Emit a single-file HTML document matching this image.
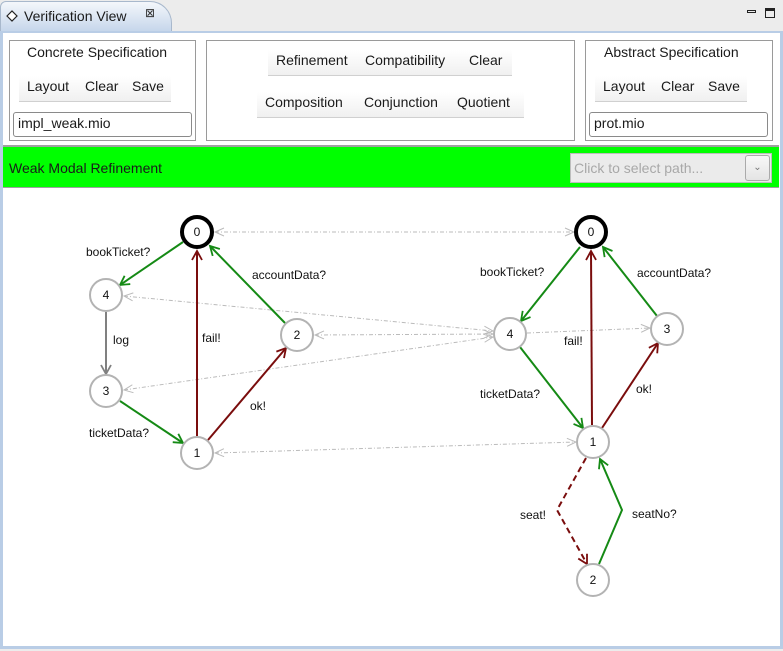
<!DOCTYPE html>
<html><head><meta charset="utf-8"><style>
*{margin:0;padding:0;box-sizing:border-box}
body{width:783px;height:651px;background:#ececec;font-family:"Liberation Sans","DejaVu Sans",sans-serif;position:relative;overflow:hidden;color:#1a1a1a}
.abs{position:absolute}
.tab{left:0;top:1px;width:172px;height:32px;background:linear-gradient(#f4f7fb,#c3d4ea);border:1px solid #a8b8cc;border-bottom:none;border-radius:6px 22px 0 0}
.frame{left:0;top:31px;width:783px;height:618px;border:3px solid #b9cde6;border-top:2px solid #b9cde6;background:#fff}
.box{border:1px solid #9a9a9a;background:#fff}
.t{font-size:14px;white-space:nowrap}
.btn{background:linear-gradient(#fff,#f0f0f0);border-bottom:1px solid #d0d0d0}
.inp{border:1px solid #8a8a8a;border-radius:3px;background:#fff;font-size:14px;padding:2px 4px}
</style></head><body>
<div class="abs tab"></div>
<svg class="abs" style="left:5px;top:9px" width="14" height="14"><path d="M2 7 L7 2 L12 7 L7 12 Z" fill="#fff" stroke="#222" stroke-width="1.2"/></svg>
<div class="abs t" style="left:24px;top:8px;font-size:14px">Verification View</div>
<div class="abs" style="left:145px;top:6px;font-size:12px;color:#333">⊠</div>
<div class="abs" style="left:747px;top:10px;width:9px;height:3px;border:1px solid #222"></div>
<div class="abs" style="left:765px;top:8px;width:10px;height:10px;border:1px solid #222;border-top-width:3px"></div>
<div class="abs frame"></div>

<div class="abs box" style="left:9px;top:40px;width:187px;height:101px"></div>
<div class="abs t" style="left:27px;top:44px">Concrete Specification</div>
<div class="abs btn" style="left:19px;top:76px;width:152px;height:26px"></div>
<div class="abs t" style="left:27px;top:78px">Layout</div>
<div class="abs t" style="left:85px;top:78px">Clear</div>
<div class="abs t" style="left:132px;top:78px">Save</div>
<div class="abs inp" style="left:13px;top:112px;width:179px;height:25px">impl_weak.mio</div>

<div class="abs box" style="left:206px;top:40px;width:369px;height:101px"></div>
<div class="abs btn" style="left:268px;top:50px;width:244px;height:26px"></div>
<div class="abs t" style="left:276px;top:52px">Refinement</div>
<div class="abs t" style="left:365px;top:52px">Compatibility</div>
<div class="abs t" style="left:469px;top:52px">Clear</div>
<div class="abs btn" style="left:257px;top:92px;width:267px;height:26px"></div>
<div class="abs t" style="left:265px;top:94px">Composition</div>
<div class="abs t" style="left:364px;top:94px">Conjunction</div>
<div class="abs t" style="left:457px;top:94px">Quotient</div>

<div class="abs box" style="left:585px;top:40px;width:188px;height:101px"></div>
<div class="abs t" style="left:604px;top:44px">Abstract Specification</div>
<div class="abs btn" style="left:595px;top:76px;width:152px;height:26px"></div>
<div class="abs t" style="left:603px;top:78px">Layout</div>
<div class="abs t" style="left:661px;top:78px">Clear</div>
<div class="abs t" style="left:708px;top:78px">Save</div>
<div class="abs inp" style="left:589px;top:112px;width:179px;height:25px">prot.mio</div>

<div class="abs" style="left:3px;top:145px;width:776px;height:2px;background:#a0a0a0"></div>
<div class="abs" style="left:3px;top:147px;width:776px;height:41px;background:#00ff00;border-bottom:1px solid #a0a0a0"></div>
<div class="abs t" style="left:9px;top:160px">Weak Modal Refinement</div>
<div class="abs" style="left:570px;top:153px;width:202px;height:30px;background:#ebebeb;border:1px solid #bdbdbd"></div>
<div class="abs t" style="left:574px;top:160px;color:#a8a8a8">Click to select path...</div>
<div class="abs" style="left:745px;top:155px;width:25px;height:26px;background:linear-gradient(#f8f8f8,#e4e4e4);border:1px solid #aaa;border-radius:3px;font-size:10px;color:#777;text-align:center;line-height:24px">⌄</div>

<svg class="abs" style="left:0;top:0" width="783" height="651">
<defs>
<marker id="ag" markerWidth="12" markerHeight="12" refX="10" refY="6" orient="auto" markerUnits="userSpaceOnUse"><path d="M1 1 L10 6 L1 11" fill="none" stroke="#158a15" stroke-width="1.8"/></marker>
<marker id="ar" markerWidth="12" markerHeight="12" refX="10" refY="6" orient="auto" markerUnits="userSpaceOnUse"><path d="M1 1 L10 6 L1 11" fill="none" stroke="#7a0d0d" stroke-width="1.8"/></marker>
<marker id="ay" markerWidth="12" markerHeight="12" refX="10" refY="6" orient="auto" markerUnits="userSpaceOnUse"><path d="M1 1 L10 6 L1 11" fill="none" stroke="#808080" stroke-width="1.8"/></marker>
<marker id="al" markerWidth="12" markerHeight="12" refX="10" refY="6" orient="auto" markerUnits="userSpaceOnUse"><path d="M1 2 L10 6 L1 10" fill="none" stroke="#bbb" stroke-width="1"/></marker>
<marker id="als" markerWidth="12" markerHeight="12" refX="2" refY="6" orient="auto" markerUnits="userSpaceOnUse"><path d="M11 2 L2 6 L11 10" fill="none" stroke="#bbb" stroke-width="1"/></marker>
</defs>
<g stroke="#bbb" stroke-width="1" stroke-dasharray="4,2,1,2" fill="none" marker-start="url(#als)" marker-end="url(#al)">
<line x1="215" y1="232" x2="574" y2="232"/>
<line x1="124" y1="296" x2="493" y2="331"/>
<line x1="315" y1="335" x2="493" y2="334"/>
<line x1="124" y1="390" x2="493" y2="337"/>
<line x1="215" y1="453" x2="576" y2="442"/>
</g>
<line x1="527" y1="333" x2="650" y2="328" stroke="#bbb" stroke-dasharray="4,2,1,2" marker-end="url(#al)"/>
<g fill="none" stroke-width="2">
<line x1="183" y1="242" x2="120" y2="285" stroke="#158a15" marker-end="url(#ag)"/>
<line x1="106" y1="312" x2="106" y2="374" stroke="#808080" marker-end="url(#ay)"/>
<line x1="120" y1="401" x2="183" y2="443" stroke="#158a15" marker-end="url(#ag)"/>
<line x1="197" y1="436" x2="197" y2="251" stroke="#7a0d0d" marker-end="url(#ar)"/>
<line x1="208" y1="440" x2="286" y2="348" stroke="#7a0d0d" marker-end="url(#ar)"/>
<line x1="285" y1="323" x2="210" y2="246" stroke="#158a15" marker-end="url(#ag)"/>
<line x1="580" y1="247" x2="521" y2="321" stroke="#158a15" marker-end="url(#ag)"/>
<line x1="520" y1="347" x2="583" y2="428" stroke="#158a15" marker-end="url(#ag)"/>
<line x1="592" y1="425" x2="591" y2="251" stroke="#7a0d0d" marker-end="url(#ar)"/>
<line x1="602" y1="428" x2="658" y2="343" stroke="#7a0d0d" marker-end="url(#ar)"/>
<line x1="657" y1="316" x2="603" y2="247" stroke="#158a15" marker-end="url(#ag)"/>
<polyline points="586,458 557,510 587,564" stroke="#7a0d0d" stroke-dasharray="6,4" marker-end="url(#ar)"/>
<polyline points="599,564 622,510 600,459" stroke="#158a15" marker-end="url(#ag)"/>
</g>
<g fill="#fff" stroke="#b3b3b3" stroke-width="2">
<circle cx="106" cy="295" r="16"/><circle cx="106" cy="391" r="16"/><circle cx="297" cy="335" r="16"/><circle cx="197" cy="453" r="16"/>
<circle cx="510" cy="334" r="16"/><circle cx="667" cy="329" r="16"/><circle cx="593" cy="442" r="16"/><circle cx="593" cy="580" r="16"/>
</g>
<g fill="#fff" stroke="#000" stroke-width="4">
<circle cx="197" cy="232" r="15"/><circle cx="591" cy="232" r="15"/>
</g>
<g font-family="Liberation Sans, DejaVu Sans, sans-serif" font-size="12" fill="#111" text-anchor="middle">
<text x="197" y="236">0</text><text x="106" y="299">4</text><text x="106" y="395">3</text><text x="297" y="339">2</text><text x="197" y="457">1</text>
<text x="591" y="236">0</text><text x="510" y="338">4</text><text x="667" y="333">3</text><text x="593" y="446">1</text><text x="593" y="584">2</text>
</g>
<g font-family="Liberation Sans, DejaVu Sans, sans-serif" font-size="12" fill="#111">
<text x="86" y="256">bookTicket?</text><text x="113" y="344">log</text><text x="202" y="342">fail!</text>
<text x="252" y="279">accountData?</text><text x="250" y="410">ok!</text><text x="89" y="437">ticketData?</text>
<text x="480" y="276">bookTicket?</text><text x="564" y="345">fail!</text><text x="637" y="277">accountData?</text>
<text x="480" y="398">ticketData?</text><text x="636" y="393">ok!</text><text x="520" y="519">seat!</text><text x="632" y="518">seatNo?</text>
</g>
</svg>
</body></html>
